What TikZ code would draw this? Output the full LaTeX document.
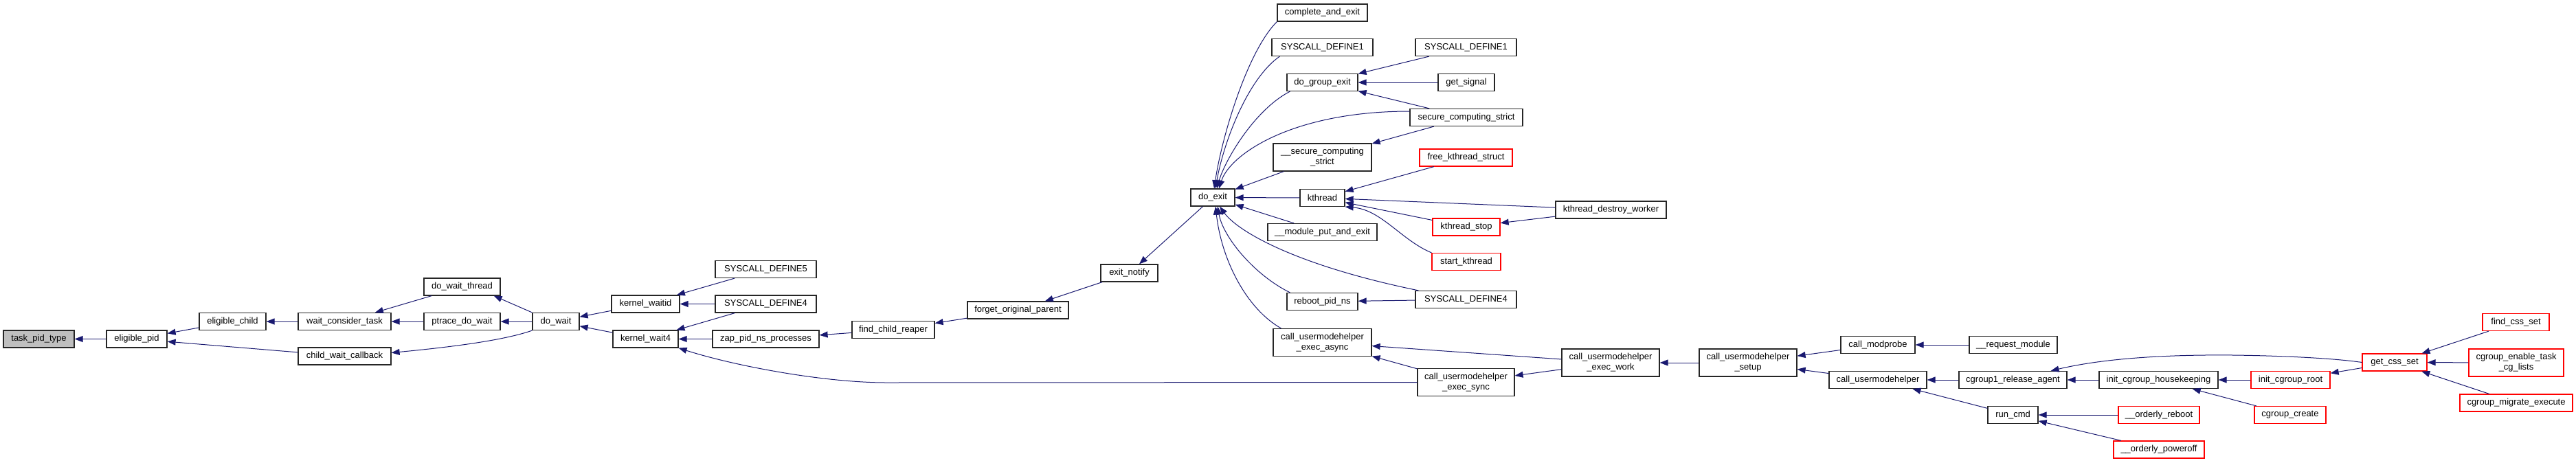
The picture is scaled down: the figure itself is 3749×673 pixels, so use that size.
\documentclass[tikz,border=0pt]{standalone}
\usepackage{fontspec}
\setmainfont{Liberation Sans}
\usetikzlibrary{arrows.meta}
\definecolor{mblue}{HTML}{191970}
\definecolor{rootgray}{HTML}{BFBFBF}
\begin{document}
\begin{tikzpicture}[x=1pt,y=-1pt,
 nb/.style={draw=black!85, line width=1.2pt, fill=white, inner sep=0pt, minimum height=25pt, font=\fontsize{13}{15}\selectfont, align=center, text=black},
 rb/.style={nb, draw=red},
 root/.style={nb, fill=rootgray},
 tl/.style={minimum height=40pt},
 e/.style={draw=mblue, line width=1pt, <-, >={Triangle[length=12pt,width=9pt]}},
]
\useasboundingbox (0,0) rectangle (3749,673);
% nodes
\node[root,minimum width=103pt] (tpt) at (56.5,493.5) {task\_pid\_type};
\node[nb,minimum width=88pt] (epid) at (199,493.5) {eligible\_pid};
\node[nb,minimum width=97pt] (echild) at (338.5,468) {eligible\_child};
\node[nb,minimum width=135pt] (wct) at (501.5,468) {wait\_consider\_task};
\node[nb,minimum width=135pt] (cwc) at (501.5,518.5) {child\_wait\_callback};
\node[nb,minimum width=111pt] (dwt) at (672.5,417.5) {do\_wait\_thread};
\node[nb,minimum width=111pt] (pdw) at (672.5,468) {ptrace\_do\_wait};
\node[nb,minimum width=68pt] (dw) at (809,468) {do\_wait};
\node[nb,minimum width=99pt] (kwid) at (939.5,442.5) {kernel\_waitid};
\node[nb,minimum width=95pt] (kw4) at (939.5,493.5) {kernel\_wait4};
\node[nb,minimum width=147pt] (sd5) at (1114.5,392) {SYSCALL\_DEFINE5};
\node[nb,minimum width=147pt] (sd4a) at (1114.5,442.5) {SYSCALL\_DEFINE4};
\node[nb,minimum width=155pt] (zap) at (1114.5,493.5) {zap\_pid\_ns\_processes};
\node[nb,minimum width=120pt] (fcr) at (1300,480) {find\_child\_reaper};
\node[nb,minimum width=147pt] (fop) at (1481.5,451.5) {forget\_original\_parent};
\node[nb,minimum width=83pt] (en) at (1643.5,397.5) {exit\_notify};
\node[nb,minimum width=64pt] (dex) at (1765,287.5) {do\_exit};
\node[nb,minimum width=131pt] (cae) at (1924.5,18.5) {complete\_and\_exit};
\node[nb,minimum width=147pt] (sd1a) at (1924.5,69) {SYSCALL\_DEFINE1};
\node[nb,minimum width=103pt] (dge) at (1924.5,120) {do\_group\_exit};
\node[nb,minimum width=147pt] (sd1b) at (2133.5,69) {SYSCALL\_DEFINE1};
\node[nb,minimum width=82pt] (gs) at (2134,120) {get\_signal};
\node[nb,minimum width=164pt] (scs) at (2134,171) {secure\_computing\_strict};
\node[nb,tl,minimum width=143pt] (uscs) at (1924.5,229) {\_\_secure\_computing\\\_strict};
\node[rb,minimum width=135pt] (fks) at (2133.5,229.5) {free\_kthread\_struct};
\node[nb,minimum width=65pt] (kth) at (1924.5,288) {kthread};
\node[nb,minimum width=161pt] (kdw) at (2344.5,305.5) {kthread\_destroy\_worker};
\node[rb,minimum width=98pt] (kst) at (2134,330.5) {kthread\_stop};
\node[nb,minimum width=159pt] (mpe) at (1924.5,338) {\_\_module\_put\_and\_exit};
\node[rb,minimum width=100pt] (stk) at (2134,381) {start\_kthread};
\node[nb,minimum width=103pt] (rpn) at (1924.5,439) {reboot\_pid\_ns};
\node[nb,minimum width=147pt] (sd4b) at (2133.5,436) {SYSCALL\_DEFINE4};
\node[nb,tl,minimum width=143pt] (cuea) at (1924.5,498.5) {call\_usermodehelper\\\_exec\_async};
\node[nb,tl,minimum width=141pt] (cues) at (2133.5,556.5) {call\_usermodehelper\\\_exec\_sync};
\node[nb,tl,minimum width=142pt] (cuew) at (2344,528) {call\_usermodehelper\\\_exec\_work};
\node[nb,tl,minimum width=142pt] (cus) at (2544,528) {call\_usermodehelper\\\_setup};
\node[nb,minimum width=108pt] (cmp) at (2733,502) {call\_modprobe};
\node[nb,minimum width=128pt] (rqm) at (2930,502) {\_\_request\_module};
\node[nb,minimum width=142pt] (cu) at (2733,553) {call\_usermodehelper};
\node[nb,minimum width=157pt] (cra) at (2929.5,553) {cgroup1\_release\_agent};
\node[nb,minimum width=73pt] (rc) at (2929.5,604) {run\_cmd};
\node[nb,minimum width=173pt] (ich) at (3141.5,553) {init\_cgroup\_housekeeping};
\node[rb,minimum width=118pt] (orb) at (3142,604) {\_\_orderly\_reboot};
\node[rb,minimum width=132pt] (opo) at (3142,654.5) {\_\_orderly\_poweroff};
\node[rb,minimum width=115pt] (icr) at (3333.5,553) {init\_cgroup\_root};
\node[rb,minimum width=104pt] (cgc) at (3333,604) {cgroup\_create};
\node[rb,minimum width=94pt] (gcs) at (3485,527.5) {get\_css\_set};
\node[rb,minimum width=97pt] (fcs) at (3661.5,469) {find\_css\_set};
\node[rb,tl,minimum width=138pt] (cetc) at (3662,528) {cgroup\_enable\_task\\\_cg\_lists};
\node[rb,minimum width=164pt] (cme) at (3662,586.5) {cgroup\_migrate\_execute};
% edges
\draw[e] (tpt) -- (epid);
\draw[e] (epid) -- (echild);
\draw[e] (epid) -- (cwc);
\draw[e] (echild) -- (wct);
\draw[e] (wct) -- (dwt);
\draw[e] (wct) -- (pdw);
\draw[e] ([yshift=5pt]cwc.east) .. controls (680,503) and (740,493) .. (dw.south west);
\draw[e] ([xshift=-10pt]dwt.south east) -- (dw.north west);
\draw[e] (pdw) -- (dw);
\draw[e] (dw) -- (kwid);
\draw[e] (dw) -- (kw4);
\draw[e] (kwid) -- (sd5);
\draw[e] (kwid) -- (sd4a);
\draw[e] (kw4) -- (sd4a);
\draw[e] (kw4) -- (zap);
\draw[e] (kw4.south east) .. controls (1070,533) and (1200,557) .. (1290,557) -- (cues.west);
\draw[e] (zap) -- (fcr);
\draw[e] (fcr) -- (fop);
\draw[e] (fop) -- (en);
\draw[e] (en) -- (dex);
\draw[e] ([xshift=2pt]dex.north) .. controls (1778,200) and (1815,75) .. (cae.south west);
\draw[e] ([xshift=4pt]dex.north) .. controls (1780,210) and (1815,115) .. ([xshift=12pt]sd1a.south west);
\draw[e] ([xshift=6pt]dex.north) .. controls (1782,235) and (1825,160) .. ([xshift=5pt]dge.south west);
\draw[e] ([xshift=9pt]dex.north) .. controls (1790,225) and (1880,162) .. ([yshift=9pt]scs.west);
\draw[e] (dex) -- (uscs);
\draw[e] (dex) -- (kth);
\draw[e] (dex) -- (mpe);
\draw[e] ([xshift=10pt]dex.south) .. controls (1800,335) and (1880,385) .. ([xshift=5pt]sd4b.north west);
\draw[e] ([xshift=7pt]dex.south) .. controls (1780,345) and (1825,400) .. ([xshift=5pt]rpn.north west);
\draw[e] ([xshift=4pt]dex.south) .. controls (1778,380) and (1815,450) .. ([xshift=12pt]cuea.north west);
\draw[e] (dge) -- (sd1b);
\draw[e] (dge) -- (gs);
\draw[e] (dge) -- (scs);
\draw[e] (uscs) -- (scs);
\draw[e] (kth) -- (fks);
\draw[e] (kth) -- (kdw);
\draw[e] (kth) -- (kst);
\draw[e] (kth.south east) .. controls (2010,305) and (2040,350) .. (stk.north west);
\draw[e] (kst) -- (kdw);
\draw[e] (rpn) -- (sd4b);
\draw[e] (cuea) -- (cuew);
\draw[e] (cuea) -- (cues);
\draw[e] (cues) -- (cuew);
\draw[e] (cuew) -- (cus);
\draw[e] (cus) -- (cmp);
\draw[e] (cus) -- (cu);
\draw[e] (cmp) -- (rqm);
\draw[e] (cu) -- (cra);
\draw[e] (cu) -- (rc);
\draw[e] ([xshift=55pt]cra.north) .. controls (3060,522) and (3150,516) .. (3250,517) .. controls (3330,518) and (3400,522) .. (gcs.west);
\draw[e] (cra) -- (ich);
\draw[e] (rc) -- (orb);
\draw[e] (rc) -- (opo);
\draw[e] (ich) -- (icr);
\draw[e] (ich) -- (cgc);
\draw[e] (icr) -- (gcs);
\draw[e] (gcs) -- (fcs);
\draw[e] (gcs) -- (cetc);
\draw[e] (gcs) -- (cme);
\end{tikzpicture}
\end{document}
